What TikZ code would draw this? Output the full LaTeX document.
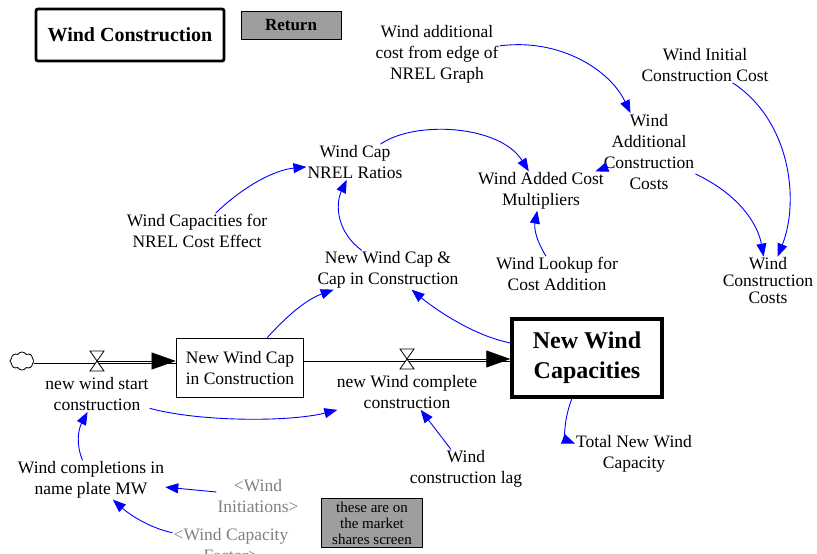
\documentclass[tikz,border=0pt]{standalone}
\usepackage{fontspec}
\setmainfont{LiberationSerif}[Extension=.ttf, UprightFont=*-Regular, BoldFont=*-Bold]
\usepackage{tikz}
\usetikzlibrary{arrows.meta,shapes.symbols,positioning}
\newcommand\varfont{\fontsize{17.5}{21}\selectfont}

\begin{document}
\begin{tikzpicture}[x=1pt, y=-1pt,
  var/.style={align=center, inner sep=1pt, font=\varfont},
  ghost/.style={var, text=black!50},
  stock/.style={rectangle, draw, align=center, font=\varfont, line width=1.6pt, minimum width=127pt, minimum height=59pt},
  link/.style={-{Triangle[length=13pt,width=10pt]}, blue, line width=0.9pt},
  pipe/.style={draw, line width=0.9pt, double distance=3.2pt},
  pipetip/.style={-{Triangle[length=24pt,width=17pt]}, line width=0.5pt},
  valvemark/.style={draw, fill=white, line width=0.8pt}
]
\useasboundingbox (0,0) rectangle (817,554);

\node[rectangle, draw, line width=2.8pt, rounded corners=2pt, minimum width=188pt, minimum height=52pt, font=\fontsize{20}{24}\selectfont\bfseries] (title) at (130,35) {Wind Construction};
\node[rectangle, draw, fill=black!38, line width=0.8pt, minimum width=100pt, minimum height=28pt, font=\fontsize{17}{20}\selectfont\bfseries] (return) at (291,25) {Return};

\node[var] (edgecost) at (437,54) {Wind additional\\cost from edge of\\NREL Graph};
\node[var] (initcost) at (705,65) {Wind Initial\\Construction Cost};
\node[var] (addcosts) at (649,152) {Wind\\Additional\\Construction\\Costs};
\node[var] (nrelratio) at (355,162) {Wind Cap\\NREL Ratios};
\node[var] (multipliers) at (541,191) {Wind Added Cost\\Multipliers};
\node[var] (capsnrel) at (197,231) {Wind Capacities for\\NREL Cost Effect};
\node[var] (capsum) at (388,270) {New Wind Cap \&\\Cap in Construction};
\node[var] (lookup) at (557,274) {Wind Lookup for\\Cost Addition};
\node[var, font=\fontsize{17.5}{17}\selectfont] (constcosts) at (768,281) {Wind\\Construction\\Costs};

\node[cloud, draw, cloud puffs=8, cloud puff arc=120, aspect=1.4, minimum width=24pt, minimum height=18pt, inner sep=0pt, line width=0.8pt] (source) at (22,361) {};
\node[stock] (incons) at (240,368) {New Wind Cap\\in Construction};
\node[stock, line width=3.5pt, minimum width=150pt, minimum height=78pt, font=\fontsize{24}{30}\selectfont\bfseries] (newcap) at (587,358) {\raisebox{-3pt}{New Wind}\\\raisebox{-3pt}{Capacities}};

\coordinate (v1) at (97,361);
\coordinate (v2) at (407,359);
\draw[pipe] (source.east) -- (source.east -| incons.west);
\draw[pipetip] (v1) -- (v1 -| incons.west);
\draw[pipe] (v2 -| incons.east) -- (v2 -| newcap.west);
\draw[pipetip] (v2) -- (v2 -| newcap.west);
\foreach \v in {v1,v2}
  \draw[valvemark] (\v) ++(-7,-10) -- ++(14,0) -- ++(-14,20) -- ++(14,0) -- cycle;

\node[var] (startflow) at (97,394) {new wind start\\construction};
\node[var] (completeflow) at (407,392) {new Wind complete\\construction};
\node[var] (lag) at (466,469) {Wind\\construction lag};
\node[var] (total) at (634,454) {Total New Wind\\Capacity};
\node[var] (completions) at (91,480) {Wind completions in\\name plate MW};
\node[ghost] (initiations) at (258,496) {<Wind\\Initiations>};
\node[ghost] (capfactor) at (231,545) {<Wind Capacity\\Factor>};
\node[rectangle, draw, fill=black!38, line width=0.8pt, align=center, minimum width=101pt, minimum height=49pt, inner sep=1pt, font=\fontsize{15}{16}\selectfont] (note) at (372,523) {these are on\\the market\\shares screen};

\draw[link] (edgecost) .. controls (560,38) and (610,70) .. (addcosts);
\draw[link] (initcost) .. controls (790,120) and (800,200) .. (constcosts);
\draw[link] (addcosts) -- (multipliers);
\draw[link] (addcosts) .. controls (740,195) and (758,225) .. (constcosts);
\draw[link] (nrelratio) .. controls (415,120) and (500,125) .. (multipliers);
\draw[link] (capsnrel) .. controls (245,185) and (275,170) .. (nrelratio);
\draw[link] (capsum) .. controls (337,232) and (335,205) .. (nrelratio);
\draw[link] (lookup) .. controls (536,240) and (534,228) .. (multipliers);
\draw[link] (incons) .. controls (285,318) and (305,300) .. (capsum);
\draw[link] (newcap) .. controls (470,335) and (430,305) .. (capsum);
\draw[link] (startflow) .. controls (200,422) and (290,422) .. (completeflow);
\draw[link] (lag) -- (completeflow);
\draw[link] (newcap) .. controls (562,425) and (566,440) .. (total.170);
\draw[link] (completions) .. controls (76,445) and (78,430) .. (startflow);
\draw[link] (initiations) -- (completions);
\draw[link] (capfactor) .. controls (150,528) and (130,515) .. (completions);
\end{tikzpicture}
\end{document}
